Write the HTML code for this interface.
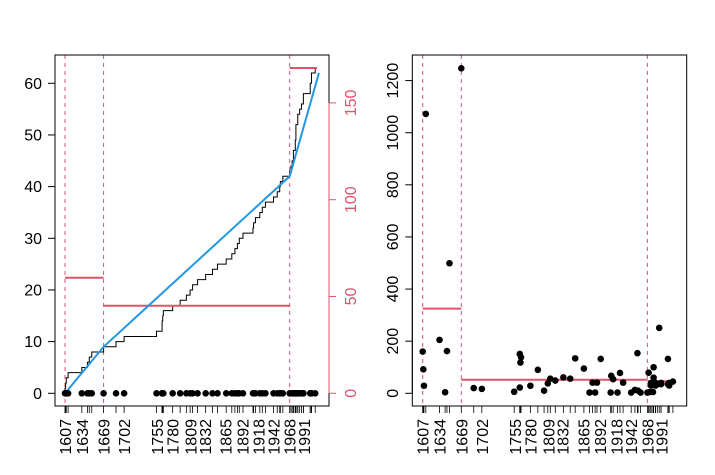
<!DOCTYPE html>
<html><head><meta charset="utf-8">
<style>
html,body{margin:0;padding:0;background:#fff;}
svg{display:block;font-family:"Liberation Sans",Arial,sans-serif;}
</style></head>
<body>
<svg id="chart" width="715" height="475" viewBox="0 0 715 475"></svg>
<script>
// ---- data ----
const eventYears = [1607,1608,1609,1612,1634,1643,1646,1650,1669,1689,1702,1754,1763,1763,1764,1765,1780,1792,1802,1808,1812,1820,1833,1844,1852,1866,1875,1880,1884,1887,1893,1909,1910,1913,1920,1924,1929,1942,1948,1952,1953,1957,1968,1970,1972,1974,1974,1977,1977,1978,1978,1978,1981,1981,1984,1987,1990,1990,2001,2001,2003,2003,2009];
const eventValues = [160,92,29,1072,205,4,162,499,1247,20,17,6,22,151,118,138,29,90,10,38,56,49,61,56,134,95,3,41,3,41,132,3,67,54,3,78,41,3,13,154,10,3,3,79,5,30,40,5,35,45,60,100,40,30,35,251,35,40,132,35,40,30,45];
const tickYears = [1607,1634,1669,1702,1755,1780,1809,1832,1865,1892,1918,1942,1968,1991];
const breakYears = [1607,1669,1968];
const leftTicks = [0,10,20,30,40,50,60];
const redTicks = [0,50,100,150];
const rightTicks = [0,200,400,600,800,1000,1200];
const leftRates = [59.7,45.2,168];
const rightMeans = [325,52,46];
const segEnds = [1607,1669,1968,2012];
const fitYears = [1607,1669,1968,2015];
const fitCounts = [0,9,42,62];

const RED="#DF536B", BLUE="#2297E6";
const svg=document.getElementById('chart');
const NS="http://www.w3.org/2000/svg";
function mk(tag,attrs,parent){const e=document.createElementNS(NS,tag);for(const k in attrs)e.setAttribute(k,attrs[k]);(parent||svg).appendChild(e);return e;}

// ---- panel 1 ----
const g1=mk('g',{});


const x1=y=>65+(y-1607)*0.6224;
const y1=c=>393.3-c*5.167;
const yr=v=>393.3-v*1.936;

function xAxis(g,xf,name){
  eventYears.forEach(yv=>{
    const t=mk('line',{x1:xf(yv),x2:xf(yv),y1:406,y2:413,stroke:'#000','stroke-width':0.8},g);
    
    
  });
  tickYears.forEach(yv=>{
    const x=xf(yv);
    const t=mk('text',{x:0,y:0,'font-size':16,fill:'#000','text-anchor':'end',transform:`translate(${x+6},419) rotate(-90)`},g);
    t.textContent=yv;
    
    
  });
}
function dashes(g,xf,name){
  breakYears.forEach(b=>{
    const l=mk('line',{x1:xf(b),x2:xf(b),y1:55,y2:406,stroke:RED,'stroke-width':1,'stroke-dasharray':'4,4'},g);
    
    
  });
}

dashes(g1,x1,'left');
let d=`M${x1(eventYears[0])},${y1(0)}`;
eventYears.forEach((yv,i)=>{d+=` H${x1(yv)} V${y1(i+1)}`;});
const st=mk('path',{d:d,fill:'none',stroke:'#000','stroke-width':1},g1);


leftRates.forEach((r,i)=>{
  const l=mk('line',{x1:x1(segEnds[i]),x2:x1(segEnds[i+1]),y1:yr(r),y2:yr(r),stroke:RED,'stroke-width':2},g1);
  
  
});
const fp=mk('polyline',{points:fitYears.map((yv,i)=>x1(yv)+','+y1(fitCounts[i])).join(' '),fill:'none',stroke:BLUE,'stroke-width':2},g1);


eventYears.forEach(yv=>{
  const c=mk('circle',{cx:x1(yv),cy:y1(0),r:3.3,fill:'#000'},g1);
  
  
});
const b1=mk('rect',{x:55,y:55,width:274,height:351,fill:'none',stroke:'#000','stroke-width':1},g1);


mk('line',{x1:55,x2:55,y1:y1(0),y2:y1(60),stroke:'#000'},g1);
leftTicks.forEach(v=>{
  mk('line',{x1:48,x2:55,y1:y1(v),y2:y1(v),stroke:'#000'},g1);
  const t=mk('text',{x:42,y:y1(v)+5.5,'font-size':16,'text-anchor':'end',fill:'#000'},g1);
  t.textContent=v;
  
  
});
mk('line',{x1:329,x2:329,y1:yr(0),y2:yr(150),stroke:RED},g1);
redTicks.forEach(v=>{
  mk('line',{x1:329,x2:336,y1:yr(v),y2:yr(v),stroke:RED},g1);
  const t=mk('text',{x:0,y:0,'font-size':16,'text-anchor':'middle',fill:RED,transform:`translate(356,${yr(v)}) rotate(-90)`},g1);
  t.textContent=v;
  
  
});
xAxis(g1,x1,'left');

// ---- panel 2 ----
const g2=mk('g',{});


const x2=y=>422.7+(y-1607)*0.6224;
const y2=v=>393.3-v*0.2606;
dashes(g2,x2,'right');
rightMeans.forEach((m,i)=>{
  const l=mk('line',{x1:x2(segEnds[i]),x2:x2(segEnds[i+1]),y1:y2(m),y2:y2(m),stroke:RED,'stroke-width':2},g2);
  
  
});
eventYears.forEach((yv,i)=>{
  const c=mk('circle',{cx:x2(yv),cy:y2(eventValues[i]),r:3.3,fill:'#000'},g2);
  
  
});
const b2=mk('rect',{x:412.3,y:55,width:274.4,height:351,fill:'none',stroke:'#000','stroke-width':1},g2);


mk('line',{x1:412.3,x2:412.3,y1:y2(0),y2:y2(1200),stroke:'#000'},g2);
rightTicks.forEach(v=>{
  mk('line',{x1:405.3,x2:412.3,y1:y2(v),y2:y2(v),stroke:'#000'},g2);
  const t=mk('text',{x:0,y:0,'font-size':16,'text-anchor':'middle',fill:'#000',transform:`translate(398,${y2(v)}) rotate(-90)`},g2);
  t.textContent=v;
  
  
});
xAxis(g2,x2,'right');
</script>
</body></html>
